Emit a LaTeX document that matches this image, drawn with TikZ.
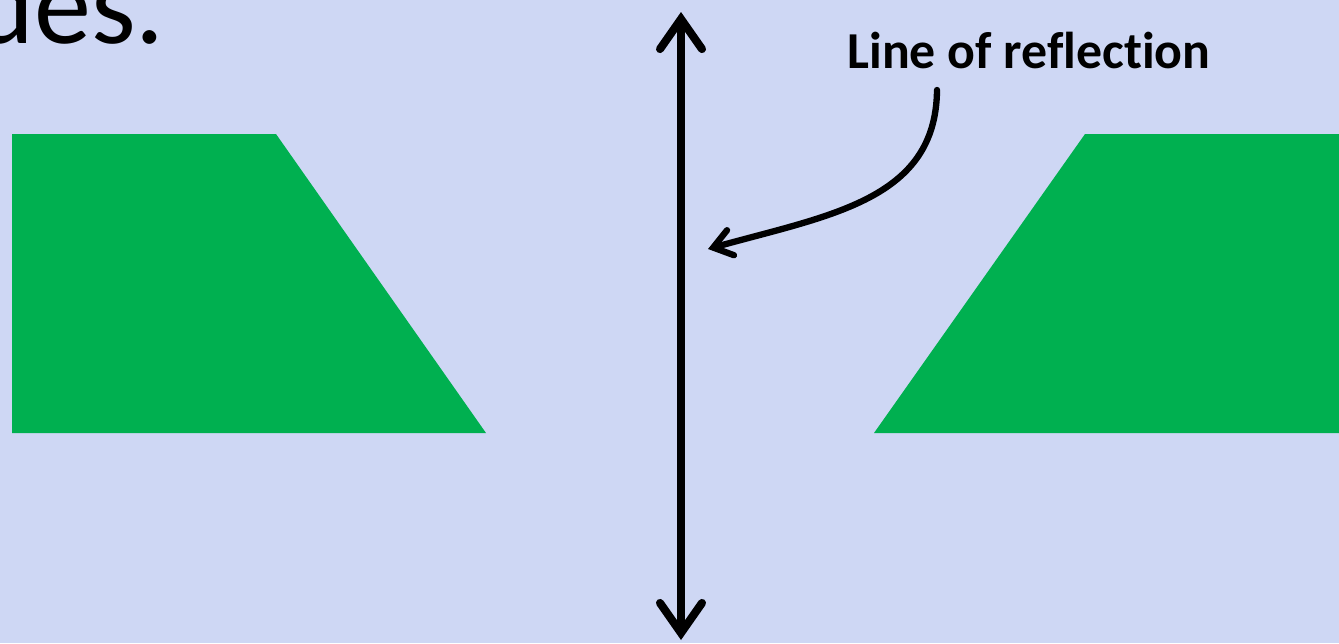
\documentclass[tikz,border=0pt]{standalone}
\usepackage{fontspec}
\setmainfont[Ligatures=NoCommon]{Carlito}
\usetikzlibrary{arrows.meta,positioning}
\definecolor{slidebg}{RGB}{206,215,244}
\definecolor{shapegreen}{RGB}{0,176,80}

\begin{document}
\begin{tikzpicture}[x=0.02cm,y=-0.02cm,
    mirror/.style={line width=4.6pt,line cap=round,{Straight Barb[length=0.6cm,width=0.84cm,line cap=round]}-{Straight Barb[length=0.6cm,width=0.84cm,line cap=round]}},
    pointer/.style={line width=3.6pt,line cap=round,-{Straight Barb[length=0.36cm,width=0.52cm,line cap=round]}},
    trap/.style={fill=shapegreen,draw=none}]
  \fill[slidebg] (0,0) rectangle (1339,643);
  \useasboundingbox (0,0) rectangle (1339,643);
  % title fragment
  \node[anchor=base east,inner sep=0,font=\fontsize{65}{70}\selectfont] (title) at (165,43) {des.};
  % the two shapes
  \path[trap] (12,134) -- (276,134) -- (486,433) -- (12,433) -- cycle;
  \path[trap] (874,433) -- (1085,134) -- (1339,134) -- (1339,433) -- cycle;
  % mirror line
  \coordinate (top) at (681,12);
  \coordinate (bot) at (681,640);
  \draw[mirror] (bot) -- (top);
  \node[anchor=base west,inner sep=0,font=\fontsize{29.5}{33}\bfseries\selectfont] (label) at (847,68) {Line of reflection};
  \coordinate (start) at (937,90);
  \coordinate (hit) at (708,249);
  \draw[pointer] (start) .. controls (936,200) and (830,215) .. (hit);
\end{tikzpicture}
\end{document}
